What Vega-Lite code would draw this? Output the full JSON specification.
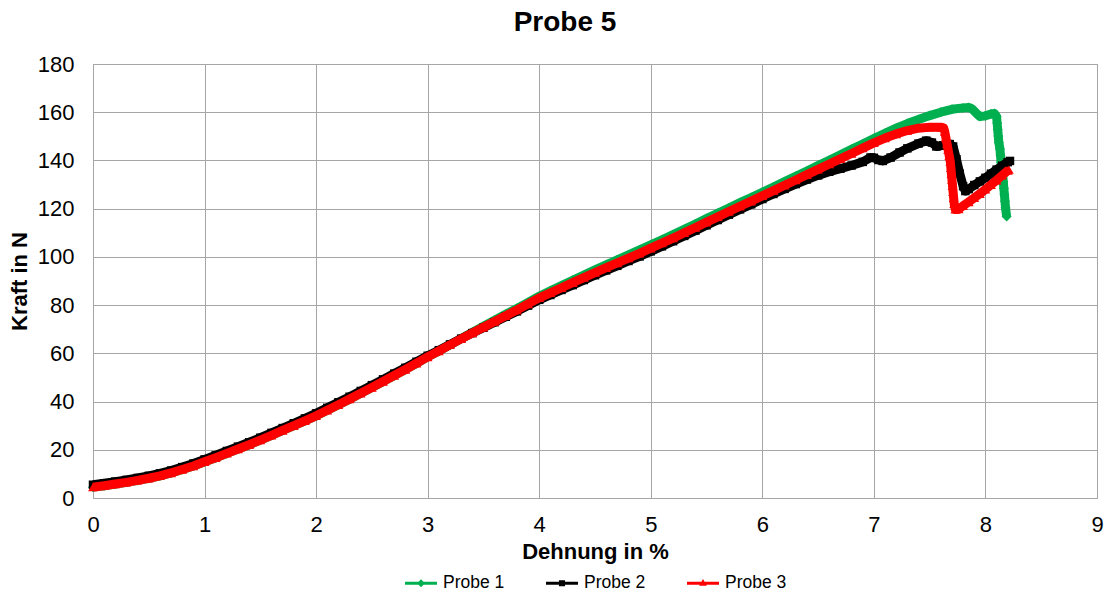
{
  "$schema": "https://vega.github.io/schema/vega-lite/v6.json",
  "width": 1004,
  "height": 434,
  "autosize": "none",
  "padding": {"left": 93, "top": 64, "right": 8, "bottom": 97},
  "background": "white",
  "config": {
    "view": {"stroke": "#A6A6A6", "strokeWidth": 1},
    "font": "Liberation Sans",
    "axis": {"labelFont": "Liberation Sans", "titleFont": "Liberation Sans", "labelColor": "#000", "titleColor": "#000"}
  },
  "title": {"text": "Probe 5", "fontSize": 28, "fontWeight": "bold", "font": "Liberation Sans", "color": "#000", "anchor": "middle", "dx": -30, "offset": 16},
  "datasets": {
    "curves": [
      {"probe": "Probe 1", "dehnung": 0.0, "kraft": 4.5}, {"probe": "Probe 1", "dehnung": 0.1, "kraft": 5.1}, {"probe": "Probe 1", "dehnung": 0.2, "kraft": 5.8}, {"probe": "Probe 1", "dehnung": 0.3, "kraft": 6.5}, {"probe": "Probe 1", "dehnung": 0.4, "kraft": 7.3}, {"probe": "Probe 1", "dehnung": 0.5, "kraft": 8.2}, {"probe": "Probe 1", "dehnung": 0.6, "kraft": 9.2}, {"probe": "Probe 1", "dehnung": 0.7, "kraft": 10.4}, {"probe": "Probe 1", "dehnung": 0.8, "kraft": 11.8}, {"probe": "Probe 1", "dehnung": 0.9, "kraft": 13.3},
      {"probe": "Probe 1", "dehnung": 1.0, "kraft": 15.0}, {"probe": "Probe 1", "dehnung": 1.1, "kraft": 16.7}, {"probe": "Probe 1", "dehnung": 1.2, "kraft": 18.5}, {"probe": "Probe 1", "dehnung": 1.3, "kraft": 20.3}, {"probe": "Probe 1", "dehnung": 1.4, "kraft": 22.1}, {"probe": "Probe 1", "dehnung": 1.5, "kraft": 24.0}, {"probe": "Probe 1", "dehnung": 1.6, "kraft": 26.0}, {"probe": "Probe 1", "dehnung": 1.7, "kraft": 28.0}, {"probe": "Probe 1", "dehnung": 1.8, "kraft": 30.0}, {"probe": "Probe 1", "dehnung": 1.9, "kraft": 32.0},
      {"probe": "Probe 1", "dehnung": 2.0, "kraft": 34.1}, {"probe": "Probe 1", "dehnung": 2.1, "kraft": 36.4}, {"probe": "Probe 1", "dehnung": 2.2, "kraft": 38.7}, {"probe": "Probe 1", "dehnung": 2.3, "kraft": 41.0}, {"probe": "Probe 1", "dehnung": 2.4, "kraft": 43.4}, {"probe": "Probe 1", "dehnung": 2.5, "kraft": 45.8}, {"probe": "Probe 1", "dehnung": 2.6, "kraft": 48.3}, {"probe": "Probe 1", "dehnung": 2.7, "kraft": 50.8}, {"probe": "Probe 1", "dehnung": 2.8, "kraft": 53.3}, {"probe": "Probe 1", "dehnung": 2.9, "kraft": 55.9},
      {"probe": "Probe 1", "dehnung": 3.0, "kraft": 58.5}, {"probe": "Probe 1", "dehnung": 3.1, "kraft": 61.0}, {"probe": "Probe 1", "dehnung": 3.2, "kraft": 63.5}, {"probe": "Probe 1", "dehnung": 3.3, "kraft": 66.1}, {"probe": "Probe 1", "dehnung": 3.4, "kraft": 68.7}, {"probe": "Probe 1", "dehnung": 3.5, "kraft": 71.2}, {"probe": "Probe 1", "dehnung": 3.6, "kraft": 73.7}, {"probe": "Probe 1", "dehnung": 3.7, "kraft": 76.2}, {"probe": "Probe 1", "dehnung": 3.8, "kraft": 78.6}, {"probe": "Probe 1", "dehnung": 3.9, "kraft": 81.1},
      {"probe": "Probe 1", "dehnung": 4.0, "kraft": 83.7}, {"probe": "Probe 1", "dehnung": 4.1, "kraft": 85.9}, {"probe": "Probe 1", "dehnung": 4.2, "kraft": 88.1}, {"probe": "Probe 1", "dehnung": 4.3, "kraft": 90.3}, {"probe": "Probe 1", "dehnung": 4.4, "kraft": 92.4}, {"probe": "Probe 1", "dehnung": 4.5, "kraft": 94.6}, {"probe": "Probe 1", "dehnung": 4.6, "kraft": 96.7}, {"probe": "Probe 1", "dehnung": 4.7, "kraft": 98.8}, {"probe": "Probe 1", "dehnung": 4.8, "kraft": 100.8}, {"probe": "Probe 1", "dehnung": 4.9, "kraft": 102.9},
      {"probe": "Probe 1", "dehnung": 5.0, "kraft": 105.0}, {"probe": "Probe 1", "dehnung": 5.1, "kraft": 107.1}, {"probe": "Probe 1", "dehnung": 5.2, "kraft": 109.2}, {"probe": "Probe 1", "dehnung": 5.3, "kraft": 111.4}, {"probe": "Probe 1", "dehnung": 5.4, "kraft": 113.6}, {"probe": "Probe 1", "dehnung": 5.5, "kraft": 115.9}, {"probe": "Probe 1", "dehnung": 5.6, "kraft": 118.1}, {"probe": "Probe 1", "dehnung": 5.7, "kraft": 120.3}, {"probe": "Probe 1", "dehnung": 5.8, "kraft": 122.5}, {"probe": "Probe 1", "dehnung": 5.9, "kraft": 124.6},
      {"probe": "Probe 1", "dehnung": 6.0, "kraft": 126.8}, {"probe": "Probe 1", "dehnung": 6.1, "kraft": 129.0}, {"probe": "Probe 1", "dehnung": 6.2, "kraft": 131.2}, {"probe": "Probe 1", "dehnung": 6.3, "kraft": 133.4}, {"probe": "Probe 1", "dehnung": 6.4, "kraft": 135.6}, {"probe": "Probe 1", "dehnung": 6.5, "kraft": 137.9}, {"probe": "Probe 1", "dehnung": 6.6, "kraft": 140.1}, {"probe": "Probe 1", "dehnung": 6.7, "kraft": 142.3}, {"probe": "Probe 1", "dehnung": 6.8, "kraft": 144.6}, {"probe": "Probe 1", "dehnung": 6.9, "kraft": 146.8},
      {"probe": "Probe 1", "dehnung": 7.0, "kraft": 149.1}, {"probe": "Probe 1", "dehnung": 7.1, "kraft": 151.3}, {"probe": "Probe 1", "dehnung": 7.2, "kraft": 153.4}, {"probe": "Probe 1", "dehnung": 7.3, "kraft": 155.3}, {"probe": "Probe 1", "dehnung": 7.4, "kraft": 157.0}, {"probe": "Probe 1", "dehnung": 7.5, "kraft": 158.6}, {"probe": "Probe 1", "dehnung": 7.6, "kraft": 160.0}, {"probe": "Probe 1", "dehnung": 7.7, "kraft": 161.2}, {"probe": "Probe 1", "dehnung": 7.8, "kraft": 161.8}, {"probe": "Probe 1", "dehnung": 7.85, "kraft": 162.0},
      {"probe": "Probe 1", "dehnung": 7.88, "kraft": 161.4}, {"probe": "Probe 1", "dehnung": 7.92, "kraft": 159.5}, {"probe": "Probe 1", "dehnung": 7.95, "kraft": 158.2}, {"probe": "Probe 1", "dehnung": 8.0, "kraft": 158.5}, {"probe": "Probe 1", "dehnung": 8.05, "kraft": 159.3}, {"probe": "Probe 1", "dehnung": 8.08, "kraft": 159.5}, {"probe": "Probe 1", "dehnung": 8.1, "kraft": 158.2}, {"probe": "Probe 1", "dehnung": 8.105, "kraft": 155.5}, {"probe": "Probe 1", "dehnung": 8.11, "kraft": 152.8}, {"probe": "Probe 1", "dehnung": 8.115, "kraft": 150.1},
      {"probe": "Probe 1", "dehnung": 8.12, "kraft": 147.4}, {"probe": "Probe 1", "dehnung": 8.13, "kraft": 144.7}, {"probe": "Probe 1", "dehnung": 8.135, "kraft": 142.0}, {"probe": "Probe 1", "dehnung": 8.14, "kraft": 139.3}, {"probe": "Probe 1", "dehnung": 8.15, "kraft": 136.6}, {"probe": "Probe 1", "dehnung": 8.155, "kraft": 133.9}, {"probe": "Probe 1", "dehnung": 8.16, "kraft": 131.2}, {"probe": "Probe 1", "dehnung": 8.165, "kraft": 128.5}, {"probe": "Probe 1", "dehnung": 8.17, "kraft": 125.8}, {"probe": "Probe 1", "dehnung": 8.175, "kraft": 123.1},
      {"probe": "Probe 1", "dehnung": 8.18, "kraft": 120.4}, {"probe": "Probe 1", "dehnung": 8.19, "kraft": 116.7},

      {"probe": "Probe 2", "dehnung": 0.0, "kraft": 5.5}, {"probe": "Probe 2", "dehnung": 0.1, "kraft": 6.1}, {"probe": "Probe 2", "dehnung": 0.2, "kraft": 6.8}, {"probe": "Probe 2", "dehnung": 0.3, "kraft": 7.5}, {"probe": "Probe 2", "dehnung": 0.4, "kraft": 8.3}, {"probe": "Probe 2", "dehnung": 0.5, "kraft": 9.2}, {"probe": "Probe 2", "dehnung": 0.6, "kraft": 10.2}, {"probe": "Probe 2", "dehnung": 0.7, "kraft": 11.4}, {"probe": "Probe 2", "dehnung": 0.8, "kraft": 12.8}, {"probe": "Probe 2", "dehnung": 0.9, "kraft": 14.3},
      {"probe": "Probe 2", "dehnung": 1.0, "kraft": 16.0}, {"probe": "Probe 2", "dehnung": 1.1, "kraft": 17.7}, {"probe": "Probe 2", "dehnung": 1.2, "kraft": 19.5}, {"probe": "Probe 2", "dehnung": 1.3, "kraft": 21.3}, {"probe": "Probe 2", "dehnung": 1.4, "kraft": 23.1}, {"probe": "Probe 2", "dehnung": 1.5, "kraft": 25.0}, {"probe": "Probe 2", "dehnung": 1.6, "kraft": 27.0}, {"probe": "Probe 2", "dehnung": 1.7, "kraft": 29.0}, {"probe": "Probe 2", "dehnung": 1.8, "kraft": 31.0}, {"probe": "Probe 2", "dehnung": 1.9, "kraft": 33.0},
      {"probe": "Probe 2", "dehnung": 2.0, "kraft": 35.1}, {"probe": "Probe 2", "dehnung": 2.1, "kraft": 37.4}, {"probe": "Probe 2", "dehnung": 2.2, "kraft": 39.7}, {"probe": "Probe 2", "dehnung": 2.3, "kraft": 42.0}, {"probe": "Probe 2", "dehnung": 2.4, "kraft": 44.4}, {"probe": "Probe 2", "dehnung": 2.5, "kraft": 46.8}, {"probe": "Probe 2", "dehnung": 2.6, "kraft": 49.2}, {"probe": "Probe 2", "dehnung": 2.7, "kraft": 51.6}, {"probe": "Probe 2", "dehnung": 2.8, "kraft": 54.0}, {"probe": "Probe 2", "dehnung": 2.9, "kraft": 56.5},
      {"probe": "Probe 2", "dehnung": 3.0, "kraft": 59.0}, {"probe": "Probe 2", "dehnung": 3.1, "kraft": 61.3}, {"probe": "Probe 2", "dehnung": 3.2, "kraft": 63.7}, {"probe": "Probe 2", "dehnung": 3.3, "kraft": 66.1}, {"probe": "Probe 2", "dehnung": 3.4, "kraft": 68.4}, {"probe": "Probe 2", "dehnung": 3.5, "kraft": 70.6}, {"probe": "Probe 2", "dehnung": 3.6, "kraft": 72.9}, {"probe": "Probe 2", "dehnung": 3.7, "kraft": 75.2}, {"probe": "Probe 2", "dehnung": 3.8, "kraft": 77.4}, {"probe": "Probe 2", "dehnung": 3.9, "kraft": 79.8},
      {"probe": "Probe 2", "dehnung": 4.0, "kraft": 82.2}, {"probe": "Probe 2", "dehnung": 4.1, "kraft": 84.2}, {"probe": "Probe 2", "dehnung": 4.2, "kraft": 86.3}, {"probe": "Probe 2", "dehnung": 4.3, "kraft": 88.3}, {"probe": "Probe 2", "dehnung": 4.4, "kraft": 90.4}, {"probe": "Probe 2", "dehnung": 4.5, "kraft": 92.4}, {"probe": "Probe 2", "dehnung": 4.6, "kraft": 94.4}, {"probe": "Probe 2", "dehnung": 4.7, "kraft": 96.3}, {"probe": "Probe 2", "dehnung": 4.8, "kraft": 98.3}, {"probe": "Probe 2", "dehnung": 4.9, "kraft": 100.2},
      {"probe": "Probe 2", "dehnung": 5.0, "kraft": 102.3}, {"probe": "Probe 2", "dehnung": 5.1, "kraft": 104.4}, {"probe": "Probe 2", "dehnung": 5.2, "kraft": 106.5}, {"probe": "Probe 2", "dehnung": 5.3, "kraft": 108.7}, {"probe": "Probe 2", "dehnung": 5.4, "kraft": 110.9}, {"probe": "Probe 2", "dehnung": 5.5, "kraft": 113.1}, {"probe": "Probe 2", "dehnung": 5.6, "kraft": 115.3}, {"probe": "Probe 2", "dehnung": 5.7, "kraft": 117.5}, {"probe": "Probe 2", "dehnung": 5.8, "kraft": 119.7}, {"probe": "Probe 2", "dehnung": 5.9, "kraft": 121.8},
      {"probe": "Probe 2", "dehnung": 6.0, "kraft": 124.0}, {"probe": "Probe 2", "dehnung": 6.1, "kraft": 126.1}, {"probe": "Probe 2", "dehnung": 6.2, "kraft": 128.2}, {"probe": "Probe 2", "dehnung": 6.3, "kraft": 130.2}, {"probe": "Probe 2", "dehnung": 6.4, "kraft": 132.1}, {"probe": "Probe 2", "dehnung": 6.5, "kraft": 133.8}, {"probe": "Probe 2", "dehnung": 6.6, "kraft": 135.3}, {"probe": "Probe 2", "dehnung": 6.7, "kraft": 136.6}, {"probe": "Probe 2", "dehnung": 6.8, "kraft": 137.9}, {"probe": "Probe 2", "dehnung": 6.9, "kraft": 139.4},
      {"probe": "Probe 2", "dehnung": 6.97, "kraft": 141.2}, {"probe": "Probe 2", "dehnung": 7.0, "kraft": 141.1}, {"probe": "Probe 2", "dehnung": 7.04, "kraft": 140.2}, {"probe": "Probe 2", "dehnung": 7.08, "kraft": 139.8}, {"probe": "Probe 2", "dehnung": 7.15, "kraft": 141.2}, {"probe": "Probe 2", "dehnung": 7.23, "kraft": 143.3}, {"probe": "Probe 2", "dehnung": 7.3, "kraft": 145.0}, {"probe": "Probe 2", "dehnung": 7.4, "kraft": 147.0}, {"probe": "Probe 2", "dehnung": 7.47, "kraft": 148.2}, {"probe": "Probe 2", "dehnung": 7.52, "kraft": 147.4},
      {"probe": "Probe 2", "dehnung": 7.56, "kraft": 145.8}, {"probe": "Probe 2", "dehnung": 7.62, "kraft": 146.3}, {"probe": "Probe 2", "dehnung": 7.68, "kraft": 146.8}, {"probe": "Probe 2", "dehnung": 7.71, "kraft": 145.8}, {"probe": "Probe 2", "dehnung": 7.74, "kraft": 140.5}, {"probe": "Probe 2", "dehnung": 7.77, "kraft": 134.5}, {"probe": "Probe 2", "dehnung": 7.8, "kraft": 129.3}, {"probe": "Probe 2", "dehnung": 7.82, "kraft": 127.3}, {"probe": "Probe 2", "dehnung": 7.85, "kraft": 128.1}, {"probe": "Probe 2", "dehnung": 7.9, "kraft": 129.8},
      {"probe": "Probe 2", "dehnung": 7.95, "kraft": 131.3}, {"probe": "Probe 2", "dehnung": 8.0, "kraft": 132.8}, {"probe": "Probe 2", "dehnung": 8.05, "kraft": 134.5}, {"probe": "Probe 2", "dehnung": 8.1, "kraft": 136.2}, {"probe": "Probe 2", "dehnung": 8.15, "kraft": 137.8}, {"probe": "Probe 2", "dehnung": 8.2, "kraft": 139.3}, {"probe": "Probe 2", "dehnung": 8.22, "kraft": 139.8},

      {"probe": "Probe 3", "dehnung": 0.0, "kraft": 4.5}, {"probe": "Probe 3", "dehnung": 0.1, "kraft": 5.1}, {"probe": "Probe 3", "dehnung": 0.2, "kraft": 5.8}, {"probe": "Probe 3", "dehnung": 0.3, "kraft": 6.5}, {"probe": "Probe 3", "dehnung": 0.4, "kraft": 7.3}, {"probe": "Probe 3", "dehnung": 0.5, "kraft": 8.2}, {"probe": "Probe 3", "dehnung": 0.6, "kraft": 9.2}, {"probe": "Probe 3", "dehnung": 0.7, "kraft": 10.4}, {"probe": "Probe 3", "dehnung": 0.8, "kraft": 11.8}, {"probe": "Probe 3", "dehnung": 0.9, "kraft": 13.3},
      {"probe": "Probe 3", "dehnung": 1.0, "kraft": 15.0}, {"probe": "Probe 3", "dehnung": 1.1, "kraft": 16.7}, {"probe": "Probe 3", "dehnung": 1.2, "kraft": 18.5}, {"probe": "Probe 3", "dehnung": 1.3, "kraft": 20.3}, {"probe": "Probe 3", "dehnung": 1.4, "kraft": 22.1}, {"probe": "Probe 3", "dehnung": 1.5, "kraft": 24.0}, {"probe": "Probe 3", "dehnung": 1.6, "kraft": 26.0}, {"probe": "Probe 3", "dehnung": 1.7, "kraft": 28.0}, {"probe": "Probe 3", "dehnung": 1.8, "kraft": 30.0}, {"probe": "Probe 3", "dehnung": 1.9, "kraft": 32.0},
      {"probe": "Probe 3", "dehnung": 2.0, "kraft": 34.1}, {"probe": "Probe 3", "dehnung": 2.1, "kraft": 36.4}, {"probe": "Probe 3", "dehnung": 2.2, "kraft": 38.7}, {"probe": "Probe 3", "dehnung": 2.3, "kraft": 41.0}, {"probe": "Probe 3", "dehnung": 2.4, "kraft": 43.4}, {"probe": "Probe 3", "dehnung": 2.5, "kraft": 45.8}, {"probe": "Probe 3", "dehnung": 2.6, "kraft": 48.3}, {"probe": "Probe 3", "dehnung": 2.7, "kraft": 50.8}, {"probe": "Probe 3", "dehnung": 2.8, "kraft": 53.3}, {"probe": "Probe 3", "dehnung": 2.9, "kraft": 55.9},
      {"probe": "Probe 3", "dehnung": 3.0, "kraft": 58.5}, {"probe": "Probe 3", "dehnung": 3.1, "kraft": 61.0}, {"probe": "Probe 3", "dehnung": 3.2, "kraft": 63.5}, {"probe": "Probe 3", "dehnung": 3.3, "kraft": 66.0}, {"probe": "Probe 3", "dehnung": 3.4, "kraft": 68.4}, {"probe": "Probe 3", "dehnung": 3.5, "kraft": 70.8}, {"probe": "Probe 3", "dehnung": 3.6, "kraft": 73.2}, {"probe": "Probe 3", "dehnung": 3.7, "kraft": 75.6}, {"probe": "Probe 3", "dehnung": 3.8, "kraft": 78.0}, {"probe": "Probe 3", "dehnung": 3.9, "kraft": 80.5},
      {"probe": "Probe 3", "dehnung": 4.0, "kraft": 83.0}, {"probe": "Probe 3", "dehnung": 4.1, "kraft": 85.1}, {"probe": "Probe 3", "dehnung": 4.2, "kraft": 87.2}, {"probe": "Probe 3", "dehnung": 4.3, "kraft": 89.3}, {"probe": "Probe 3", "dehnung": 4.4, "kraft": 91.4}, {"probe": "Probe 3", "dehnung": 4.5, "kraft": 93.5}, {"probe": "Probe 3", "dehnung": 4.6, "kraft": 95.5}, {"probe": "Probe 3", "dehnung": 4.7, "kraft": 97.5}, {"probe": "Probe 3", "dehnung": 4.8, "kraft": 99.5}, {"probe": "Probe 3", "dehnung": 4.9, "kraft": 101.5},
      {"probe": "Probe 3", "dehnung": 5.0, "kraft": 103.6}, {"probe": "Probe 3", "dehnung": 5.1, "kraft": 105.7}, {"probe": "Probe 3", "dehnung": 5.2, "kraft": 107.8}, {"probe": "Probe 3", "dehnung": 5.3, "kraft": 110.0}, {"probe": "Probe 3", "dehnung": 5.4, "kraft": 112.2}, {"probe": "Probe 3", "dehnung": 5.5, "kraft": 114.4}, {"probe": "Probe 3", "dehnung": 5.6, "kraft": 116.6}, {"probe": "Probe 3", "dehnung": 5.7, "kraft": 118.8}, {"probe": "Probe 3", "dehnung": 5.8, "kraft": 121.0}, {"probe": "Probe 3", "dehnung": 5.9, "kraft": 123.1},
      {"probe": "Probe 3", "dehnung": 6.0, "kraft": 125.3}, {"probe": "Probe 3", "dehnung": 6.1, "kraft": 127.5}, {"probe": "Probe 3", "dehnung": 6.2, "kraft": 129.7}, {"probe": "Probe 3", "dehnung": 6.3, "kraft": 131.9}, {"probe": "Probe 3", "dehnung": 6.4, "kraft": 134.1}, {"probe": "Probe 3", "dehnung": 6.5, "kraft": 136.3}, {"probe": "Probe 3", "dehnung": 6.6, "kraft": 138.5}, {"probe": "Probe 3", "dehnung": 6.7, "kraft": 140.7}, {"probe": "Probe 3", "dehnung": 6.8, "kraft": 142.9}, {"probe": "Probe 3", "dehnung": 6.9, "kraft": 145.1},
      {"probe": "Probe 3", "dehnung": 7.0, "kraft": 147.3}, {"probe": "Probe 3", "dehnung": 7.1, "kraft": 149.3}, {"probe": "Probe 3", "dehnung": 7.2, "kraft": 151.0}, {"probe": "Probe 3", "dehnung": 7.3, "kraft": 152.4}, {"probe": "Probe 3", "dehnung": 7.4, "kraft": 153.4}, {"probe": "Probe 3", "dehnung": 7.5, "kraft": 153.8}, {"probe": "Probe 3", "dehnung": 7.6, "kraft": 153.8}, {"probe": "Probe 3", "dehnung": 7.625, "kraft": 153.5}, {"probe": "Probe 3", "dehnung": 7.635, "kraft": 152.0}, {"probe": "Probe 3", "dehnung": 7.645, "kraft": 149.5},
      {"probe": "Probe 3", "dehnung": 7.655, "kraft": 147.0}, {"probe": "Probe 3", "dehnung": 7.665, "kraft": 144.5}, {"probe": "Probe 3", "dehnung": 7.675, "kraft": 142.0}, {"probe": "Probe 3", "dehnung": 7.685, "kraft": 139.5}, {"probe": "Probe 3", "dehnung": 7.69, "kraft": 137.0}, {"probe": "Probe 3", "dehnung": 7.695, "kraft": 134.5}, {"probe": "Probe 3", "dehnung": 7.7, "kraft": 132.0}, {"probe": "Probe 3", "dehnung": 7.705, "kraft": 129.5}, {"probe": "Probe 3", "dehnung": 7.71, "kraft": 127.0}, {"probe": "Probe 3", "dehnung": 7.715, "kraft": 124.5},
      {"probe": "Probe 3", "dehnung": 7.72, "kraft": 122.0}, {"probe": "Probe 3", "dehnung": 7.73, "kraft": 119.7}, {"probe": "Probe 3", "dehnung": 7.76, "kraft": 119.8}, {"probe": "Probe 3", "dehnung": 7.8, "kraft": 121.2}, {"probe": "Probe 3", "dehnung": 7.85, "kraft": 122.8}, {"probe": "Probe 3", "dehnung": 7.9, "kraft": 124.5}, {"probe": "Probe 3", "dehnung": 7.95, "kraft": 126.2}, {"probe": "Probe 3", "dehnung": 8.0, "kraft": 128.0}, {"probe": "Probe 3", "dehnung": 8.05, "kraft": 129.9}, {"probe": "Probe 3", "dehnung": 8.1, "kraft": 131.8},
      {"probe": "Probe 3", "dehnung": 8.15, "kraft": 133.8}, {"probe": "Probe 3", "dehnung": 8.2, "kraft": 135.8}, {"probe": "Probe 3", "dehnung": 8.21, "kraft": 136.2}
    ]
  },
  "data": {"name": "curves"},
  "encoding": {
    "x": {
      "field": "dehnung", "type": "quantitative",
      "scale": {"domain": [0, 9], "nice": false},
      "axis": {"title": "Dehnung in %", "titleFontSize": 22, "titleFontWeight": "bold", "titlePadding": 6, "labelFontSize": 22, "labelPadding": 16, "ticks": false, "values": [0, 1, 2, 3, 4, 5, 6, 7, 8, 9], "labelFlush": false, "labelOverlap": false, "grid": true, "gridColor": "#A6A6A6", "gridWidth": 1, "domainColor": "#A6A6A6", "format": "d"}
    },
    "y": {
      "field": "kraft", "type": "quantitative",
      "scale": {"domain": [0, 180], "nice": false},
      "axis": {"title": "Kraft in N", "titleFontSize": 22, "titleFontWeight": "bold", "titlePadding": 6, "labelFontSize": 22, "labelPadding": 19, "ticks": false, "values": [0, 20, 40, 60, 80, 100, 120, 140, 160, 180], "labelFlush": false, "labelOverlap": false, "grid": true, "gridColor": "#A6A6A6", "gridWidth": 1, "domainColor": "#A6A6A6", "format": "d"}
    }
  },
  "layer": [
    {"transform": [{"filter": "datum.probe === 'Probe 1'"}], "mark": {"type": "line", "strokeWidth": 9, "strokeJoin": "round", "color": "#00B050"}},
    {"transform": [{"filter": "datum.probe === 'Probe 1'"}], "mark": {"type": "point", "shape": "diamond", "filled": true, "opacity": 1, "size": 100, "color": "#00B050"}},
    {"transform": [{"filter": "datum.probe === 'Probe 2'"}], "mark": {"type": "line", "strokeWidth": 9, "strokeJoin": "round", "color": "#000000"}},
    {"transform": [{"filter": "datum.probe === 'Probe 2'"}], "mark": {"type": "point", "shape": "square", "filled": true, "opacity": 1, "size": 72, "color": "#000000"}},
    {"transform": [{"filter": "datum.probe === 'Probe 3'"}], "mark": {"type": "line", "strokeWidth": 9, "strokeJoin": "round", "color": "#FF0000"}},
    {"transform": [{"filter": "datum.probe === 'Probe 3'"}], "mark": {"type": "point", "shape": "triangle-up", "filled": true, "opacity": 1, "size": 95, "color": "#FF0000"}},
    {
      "mark": {"type": "point", "filled": true, "opacity": 0},
      "encoding": {
        "color": {
          "field": "probe", "type": "nominal",
          "scale": {"domain": ["Probe 1", "Probe 2", "Probe 3"], "range": ["#00B050", "#000000", "#FF0000"]},
          "legend": {"title": null, "orient": "none", "legendX": 311, "legendY": 502, "direction": "horizontal", "symbolSize": 1024, "symbolOpacity": 1, "labelFontSize": 17.5, "labelFont": "Liberation Sans", "labelColor": "#000", "labelOffset": 5, "columnPadding": 38}
        },
        "shape": {
          "field": "probe", "type": "nominal",
          "scale": {"domain": ["Probe 1", "Probe 2", "Probe 3"], "range": ["M-1,-0.09L1,-0.09L1,0.09L-1,0.09Z M0,-0.25L0.25,0L0,0.25L-0.25,0Z", "M-1,-0.09L1,-0.09L1,0.09L-1,0.09Z M-0.19,-0.19L0.19,-0.19L0.19,0.19L-0.19,0.19Z", "M-1,-0.09L1,-0.09L1,0.09L-1,0.09Z M0,-0.26L0.24,0.16L-0.24,0.16Z"]},
          "legend": {"title": null, "orient": "none", "legendX": 311, "legendY": 502, "direction": "horizontal", "symbolSize": 1024, "symbolOpacity": 1, "labelFontSize": 17.5, "labelFont": "Liberation Sans", "labelColor": "#000", "labelOffset": 5, "columnPadding": 38}
        }
      }
    }
  ]
}
